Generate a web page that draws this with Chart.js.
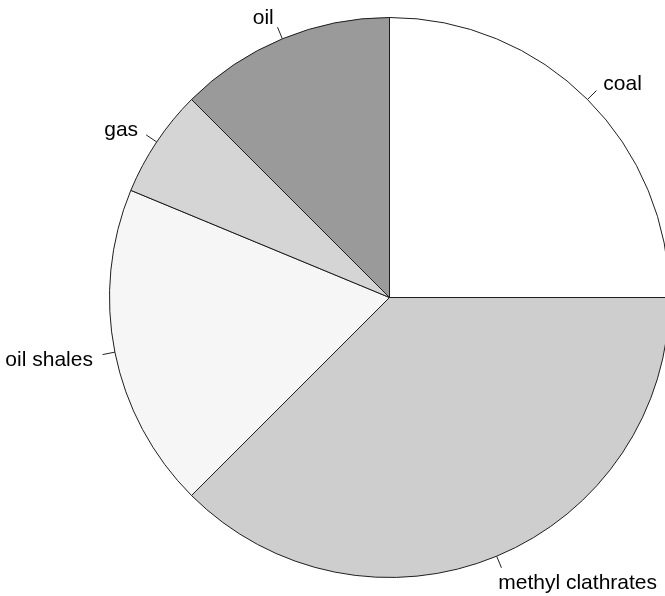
<!DOCTYPE html>
<html>
<head>
<meta charset="utf-8">
<script src="https://cdn.jsdelivr.net/npm/chart.js@4/dist/chart.umd.min.js"></script>
<style>
    html, body { margin: 0; padding: 0; background: #ffffff; overflow: hidden; }
    #wrap { position: relative; width: 680px; height: 596px; }
</style>
</head>
<body>
<div id="wrap"><canvas id="pie"></canvas></div>
<script>
// fuel reserves, clockwise from twelve o'clock
const categories = ['coal', 'methyl clathrates', 'oil shales', 'gas', 'oil'];
const reserves = [4000, 6000, 3000, 1000, 2000];
const sliceColors = ['#ffffff', '#cecece', '#f6f6f6', '#d5d5d5', '#9a9a9a'];

const fontSpec = '21px "Liberation Sans", Arial, sans-serif';

// tick marks and names just outside the rim
const rimLabels = {
    id: 'rimLabels',
    afterDatasetsDraw(chart) {
        const ctx = chart.ctx;
        const arcs = chart.getDatasetMeta(0).data;
        const maxX = 665 - 8;
        ctx.save();
        ctx.font = fontSpec;
        ctx.fillStyle = '#000000';
        ctx.strokeStyle = '#222222';
        ctx.lineWidth = 1;
        ctx.textBaseline = 'middle';
        arcs.forEach((arc, i) => {
            const p = arc.getProps(['x', 'y', 'startAngle', 'endAngle', 'outerRadius'], true);
            const mid = (p.startAngle + p.endAngle) / 2;
            const dx = Math.cos(mid), dy = Math.sin(mid);
            const r = p.outerRadius;
            ctx.beginPath();
            ctx.moveTo(p.x + dx * r, p.y + dy * r);
            ctx.lineTo(p.x + dx * r * 1.045, p.y + dy * r * 1.045);
            ctx.stroke();

            const text = categories[i];
            let tx = p.x + dx * r * 1.08;
            const ty = p.y + dy * r * 1.093 + 3;
            if (dx >= 0) {
                const w = ctx.measureText(text).width;
                if (tx + w > maxX) tx = maxX - w;
                ctx.textAlign = 'left';
            } else {
                ctx.textAlign = 'right';
            }
            ctx.fillText(text, tx, ty);
        });
        ctx.restore();
    }
};

new Chart(document.getElementById('pie'), {
    type: 'pie',
    data: {
        labels: categories,
        datasets: [{
            data: reserves,
            backgroundColor: sliceColors,
            borderColor: '#1e1e1e',
            borderWidth: 1,
            borderAlign: 'center'
        }]
    },
    options: {
        responsive: true,
        maintainAspectRatio: false,
        animation: false,
        layout: {
            padding: { left: 109, top: 17, right: 10, bottom: 18 }
        },
        plugins: {
            legend: { display: false },
            tooltip: { enabled: false }
        }
    },
    plugins: [rimLabels]
});
</script>
</body>
</html>
